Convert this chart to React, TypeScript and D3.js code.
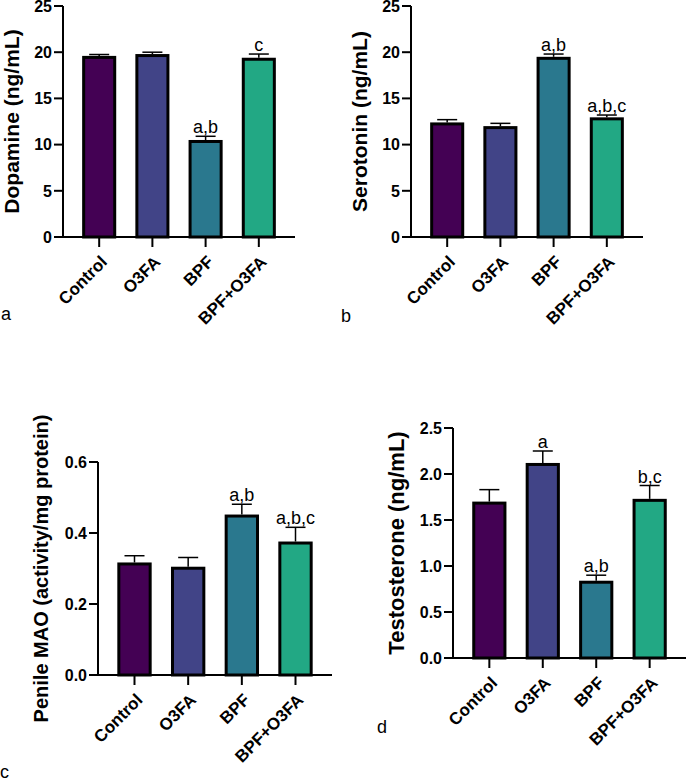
import * as d3 from "d3";
import React, { useEffect, useRef } from "react";

const groups = ["Control", "O3FA", "BPF", "BPF+O3FA"];
const barColors = ["#440154", "#414487", "#2a788e", "#22a884"];

const dopamineMean = [19.6, 19.8, 10.5, 19.4];
const dopamineSem = [0.15, 0.2, 0.4, 0.4];
const dopamineLetters = ["", "", "a,b", "c"];

const serotoninMean = [12.4, 12.0, 19.5, 12.95];
const serotoninSem = [0.3, 0.3, 0.3, 0.25];
const serotoninLetters = ["", "", "a,b", "a,b,c"];

const maoMean = [0.317, 0.305, 0.452, 0.376];
const maoSem = [0.019, 0.026, 0.029, 0.04];
const maoLetters = ["", "", "a,b", "a,b,c"];

const testosteroneMean = [1.7, 2.12, 0.84, 1.73];
const testosteroneSem = [0.13, 0.13, 0.06, 0.145];
const testosteroneLetters = ["", "a", "a,b", "b,c"];

const ngTicks = [0, 5, 10, 15, 20, 25];
const maoTicks = [0, 0.2, 0.4, 0.6];
const testosteroneTicks = [0, 0.5, 1.0, 1.5, 2.0, 2.5];

const FONT = "'Liberation Sans', Arial, Helvetica, sans-serif";

interface Panel {
  tag: string;
  title: string;
  mean: number[];
  sem: number[];
  letters: string[];
  ticks: number[];
  fmt: (v: number) => string;
  x0: number;
  x1: number;
  yTop: number;
  yBot: number;
  titleX: number;
  titleSize: number;
  tagX: number;
  tagY: number;
}

const panels: Panel[] = [
  {
    tag: "a", title: "Dopamine (ng/mL)", mean: dopamineMean, sem: dopamineSem,
    letters: dopamineLetters, ticks: ngTicks, fmt: d3.format("d"),
    x0: 63, x1: 295, yTop: 6, yBot: 237, titleX: 19, titleSize: 21, tagX: 1, tagY: 320,
  },
  {
    tag: "b", title: "Serotonin (ng/mL)", mean: serotoninMean, sem: serotoninSem,
    letters: serotoninLetters, ticks: ngTicks, fmt: d3.format("d"),
    x0: 411, x1: 643, yTop: 6, yBot: 237, titleX: 367, titleSize: 21, tagX: 341, tagY: 322,
  },
  {
    tag: "c", title: "Penile MAO (activity/mg protein)", mean: maoMean, sem: maoSem,
    letters: maoLetters, ticks: maoTicks, fmt: d3.format(".1f"),
    x0: 98, x1: 332, yTop: 462, yBot: 675, titleX: 48, titleSize: 20, tagX: 0, tagY: 778,
  },
  {
    tag: "d", title: "Testosterone (ng/mL)", mean: testosteroneMean, sem: testosteroneSem,
    letters: testosteroneLetters, ticks: testosteroneTicks, fmt: d3.format(".1f"),
    x0: 453, x1: 686, yTop: 428, yBot: 658, titleX: 404, titleSize: 22, tagX: 377, tagY: 733,
  },
];

function drawPanel(svg: d3.Selection<SVGSVGElement, unknown, null, undefined>, p: Panel) {
  const g = svg.append("g");
  const ymax = p.ticks[p.ticks.length - 1];
  const y = d3.scaleLinear().domain([0, ymax]).range([p.yBot, p.yTop]);
  const x = d3.scaleBand<string>().domain(groups).range([p.x0, p.x1]).padding(0.36);
  const bw = x.bandwidth();

  // bars with heavy outline
  g.selectAll("rect.bar")
    .data(groups)
    .enter()
    .append("rect")
    .attr("class", "bar")
    .attr("x", (d) => x(d)! + 1.5)
    .attr("y", (_, i) => y(p.mean[i]) + 1.5)
    .attr("width", bw - 3)
    .attr("height", (_, i) => p.yBot - y(p.mean[i]) - 1.5)
    .attr("fill", (_, i) => barColors[i])
    .attr("stroke", "#000")
    .attr("stroke-width", 3);

  // upper error bars
  groups.forEach((d, i) => {
    const cx = x(d)! + bw / 2;
    const top = y(p.mean[i] + p.sem[i]);
    g.append("line")
      .attr("x1", cx).attr("x2", cx)
      .attr("y1", y(p.mean[i])).attr("y2", top)
      .attr("stroke", "#000").attr("stroke-width", 1.5);
    g.append("line")
      .attr("x1", cx - 10).attr("x2", cx + 10)
      .attr("y1", top).attr("y2", top)
      .attr("stroke", "#000").attr("stroke-width", 1.5);
    if (p.letters[i]) {
      g.append("text")
        .attr("x", cx)
        .attr("y", top - 3)
        .attr("text-anchor", "middle")
        .attr("font-family", FONT)
        .attr("font-size", 18)
        .attr("fill", "#000")
        .text(p.letters[i]);
    }
  });

  // y axis
  const yAxis = g.append("g");
  yAxis.append("line")
    .attr("x1", p.x0).attr("x2", p.x0)
    .attr("y1", p.yTop).attr("y2", p.yBot + 1)
    .attr("stroke", "#000").attr("stroke-width", 2);
  p.ticks.forEach((t) => {
    yAxis.append("line")
      .attr("x1", p.x0 - 9).attr("x2", p.x0)
      .attr("y1", y(t)).attr("y2", y(t))
      .attr("stroke", "#000").attr("stroke-width", 2);
    yAxis.append("text")
      .attr("x", p.x0 - 11)
      .attr("y", y(t))
      .attr("dy", "0.36em")
      .attr("text-anchor", "end")
      .attr("font-family", FONT)
      .attr("font-weight", "bold")
      .attr("font-size", 16)
      .text(p.fmt(t));
  });

  // x axis
  const xAxis = g.append("g");
  xAxis.append("line")
    .attr("x1", p.x0 - 1).attr("x2", p.x1)
    .attr("y1", p.yBot).attr("y2", p.yBot)
    .attr("stroke", "#000").attr("stroke-width", 2);
  groups.forEach((d) => {
    const cx = x(d)! + bw / 2;
    xAxis.append("line")
      .attr("x1", cx).attr("x2", cx)
      .attr("y1", p.yBot).attr("y2", p.yBot + 10)
      .attr("stroke", "#000").attr("stroke-width", 2);
    xAxis.append("text")
      .attr("transform", `translate(${cx + 9},${p.yBot + 26}) rotate(-45)`)
      .attr("text-anchor", "end")
      .attr("font-family", FONT)
      .attr("font-weight", "bold")
      .attr("font-size", 17)
      .text(d);
  });

  // axis title
  g.append("text")
    .attr("transform", `translate(${p.titleX},${(p.yTop + p.yBot) / 2}) rotate(-90)`)
    .attr("text-anchor", "middle")
    .attr("font-family", FONT)
    .attr("font-weight", "bold")
    .attr("font-size", p.titleSize)
    .text(p.title);

  // panel tag
  svg.append("text")
    .attr("x", p.tagX)
    .attr("y", p.tagY)
    .attr("font-family", FONT)
    .attr("font-size", 18)
    .text(p.tag);
}

export default function App() {
  const ref = useRef<SVGSVGElement | null>(null);

  useEffect(() => {
    const svg = d3.select(ref.current!);
    svg.selectAll("*").remove();
    svg.append("rect").attr("width", 686).attr("height", 781).attr("fill", "#fff");
    panels.forEach((p) => drawPanel(svg, p));
  }, []);

  return (
    <svg
      ref={ref}
      width={686}
      height={781}
      style={{ position: "absolute", left: 0, top: 0, display: "block" }}
    />
  );
}
